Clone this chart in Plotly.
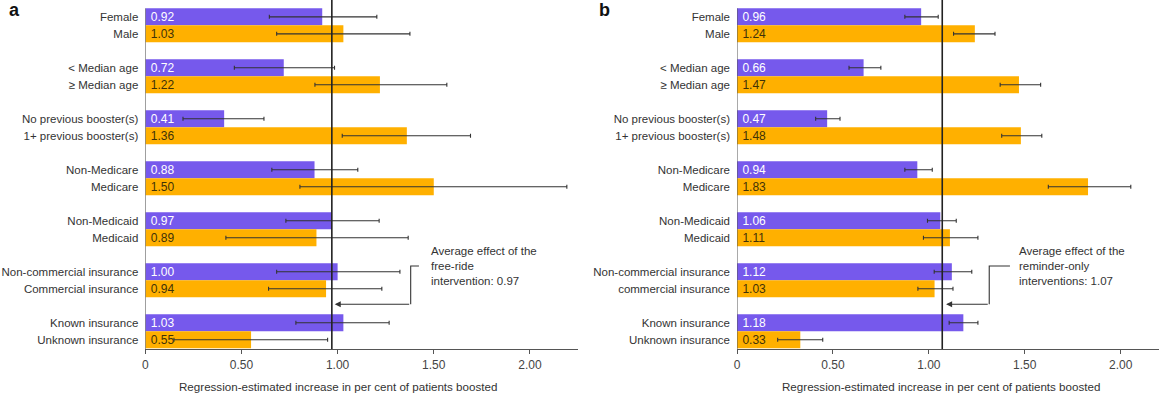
import plotly.graph_objects as go

# ---------------- data ----------------
labels_a = ["Female", "Male", "< Median age", "≥ Median age", "No previous booster(s)",
            "1+ previous booster(s)", "Non-Medicare", "Medicare", "Non-Medicaid", "Medicaid",
            "Non-commercial insurance", "Commercial insurance", "Known insurance", "Unknown insurance"]
labels_b = ["Female", "Male", "< Median age", "≥ Median age", "No previous booster(s)",
            "1+ previous booster(s)", "Non-Medicare", "Medicare", "Non-Medicaid", "Medicaid",
            "Non-commercial insurance", "commercial insurance", "Known insurance", "Unknown insurance"]

values_a = [0.92, 1.03, 0.72, 1.22, 0.41, 1.36, 0.88, 1.50, 0.97, 0.89, 1.00, 0.94, 1.03, 0.55]
low_a = [0.645, 0.683, 0.463, 0.882, 0.196, 1.024, 0.658, 0.804, 0.731, 0.419, 0.683, 0.641, 0.783, 0.149]
high_a = [1.204, 1.376, 0.984, 1.568, 0.617, 1.691, 1.105, 2.192, 1.216, 1.367, 1.324, 1.23, 1.268, 0.948]

values_b = [0.96, 1.24, 0.66, 1.47, 0.47, 1.48, 0.94, 1.83, 1.06, 1.11, 1.12, 1.03, 1.18, 0.33]
low_b = [0.875, 1.129, 0.584, 1.372, 0.41, 1.38, 0.875, 1.623, 0.993, 0.972, 1.028, 0.943, 1.106, 0.212]
high_b = [1.049, 1.345, 0.75, 1.583, 0.537, 1.589, 1.018, 2.053, 1.143, 1.256, 1.224, 1.126, 1.256, 0.447]

avg_a = 0.97
avg_b = 1.07
note_a = "free-ride<br>intervention"
note_b = "reminder-only<br>interventions"

tick_vals_x = [0, 0.5, 1.0, 1.5, 2.0]
tick_text_x = ["0", "0.50", "1.00", "1.50", "2.00"]

PURPLE = "#7659EC"
ORANGE = "#FFB000"
TXT = "#333333"
FONT = "Liberation Sans, Arial, sans-serif"

# slot position: each group of two bars plus one empty slot
pos = [(i // 2) * 3 + (i % 2) for i in range(14)]
Y_RANGE = [19.56, -0.99]

fig = go.Figure()


def add_panel(values, low, high, xa, ya):
    for parity, color, tcolor in [(0, PURPLE, "white"), (1, ORANGE, "#3f3208")]:
        idx = [i for i in range(len(values)) if i % 2 == parity]
        v = [values[i] for i in idx]
        fig.add_trace(go.Bar(
            x=v, y=[pos[i] for i in idx], orientation="h", width=1,
            marker=dict(color=color, line=dict(width=0)),
            text=[f"\u2009{x:.2f}" for x in v], textposition="inside", insidetextanchor="start",
            constraintext="none",
            textfont=dict(size=12, color=tcolor, family=FONT),
            error_x=dict(type="data", symmetric=False,
                         array=[high[i] - values[i] for i in idx],
                         arrayminus=[values[i] - low[i] for i in idx],
                         color="#333333", thickness=1.1, width=2),
            xaxis=xa, yaxis=ya, showlegend=False, hoverinfo="skip", cliponaxis=False,
        ))


add_panel(values_a, low_a, high_a, "x", "y")
add_panel(values_b, low_b, high_b, "x2", "y2")

ydom = [43.7 / 393, 1.0]
xcommon = dict(tickvals=tick_vals_x, ticktext=tick_text_x, ticks="outside", ticklen=4,
               tickcolor="#555555", showline=True, linecolor="#555555", linewidth=1,
               showgrid=False, zeroline=False, automargin=False,
               tickfont=dict(size=12, color="#444444", family=FONT))
ycommon = dict(range=Y_RANGE, tickvals=pos, showgrid=False, zeroline=False, ticks="",
               showline=False, ticklabelstandoff=6, automargin=False,
               tickfont=dict(size=11.5, color=TXT, family=FONT), domain=ydom)

fig.update_layout(
    width=1170, height=393, autosize=False,
    margin=dict(l=0, r=0, t=0, b=0, autoexpand=False),
    paper_bgcolor="white", plot_bgcolor="white",
    barmode="overlay",
    font=dict(family=FONT, color=TXT),
    xaxis=dict(domain=[145.3 / 1170, 578 / 1170], anchor="y", range=[0, 2.25], **xcommon),
    yaxis=dict(anchor="x", ticktext=labels_a, **ycommon),
    xaxis2=dict(domain=[737 / 1170, 1159 / 1170], anchor="y2", range=[0, 2.2], **xcommon),
    yaxis2=dict(anchor="x2", ticktext=labels_b, **ycommon),
)

shapes = []
annotations = []
for xr, yr, avg, note, brx, textx, tip in [("x", "y", avg_a, note_a, 1.38, 1.475, 0.985),
                                          ("x2", "y2", avg_b, note_b, 1.315, 1.461, 1.09)]:
    # left axis line
    shapes.append(dict(type="line", xref=xr, yref=yr, x0=0, x1=0, y0=-0.5, y1=Y_RANGE[0],
                       line=dict(color="#555555", width=1), layer="above"))
    # average effect line
    shapes.append(dict(type="line", xref=xr, yref=yr, x0=avg, x1=avg, y0=Y_RANGE[1], y1=Y_RANGE[0],
                       line=dict(color="#222222", width=1.6), layer="above"))
    # bracket
    shapes.append(dict(type="path", xref=xr, yref=yr,
                       path=f"M 1.423 14.66 L {brx} 14.66 L {brx} 16.91",
                       line=dict(color="#333333", width=1.1), layer="above"))
    annotations.append(dict(xref=xr, yref=yr, x=tip, y=16.91, axref=xr, ayref=yr, ax=brx, ay=16.91,
                            showarrow=True, arrowhead=2, arrowsize=1.1, arrowwidth=1.1,
                            arrowcolor="#333333", text=""))
    annotations.append(dict(xref=xr, yref=yr, x=textx, y=14.66, xanchor="left", yanchor="middle",
                            align="left", showarrow=False,
                            text=f"Average effect of the<br>{note}: {avg:.2f}",
                            font=dict(size=11.5, color=TXT, family=FONT)))

for cx in [337.7, 940.5]:
    annotations.append(dict(xref="paper", yref="paper", x=cx / 1170, y=1 - 386.7 / 393,
                            xanchor="center", yanchor="middle", showarrow=False,
                            text="Regression-estimated increase in per cent of patients boosted",
                            font=dict(size=11.6, color=TXT, family=FONT)))

for lx, lt in [(14, "a"), (604.5, "b")]:
    annotations.append(dict(xref="paper", yref="paper", x=lx / 1170, y=1 - 10 / 393,
                            xanchor="center", yanchor="middle", showarrow=False,
                            text=f"<b>{lt}</b>", font=dict(size=18, color="#111111", family=FONT)))

fig.update_layout(shapes=shapes, annotations=annotations)
fig.write_html("out.html", config={"displayModeBar": False},
               post_script="document.body.style.margin='0';document.body.style.overflow='hidden';")
